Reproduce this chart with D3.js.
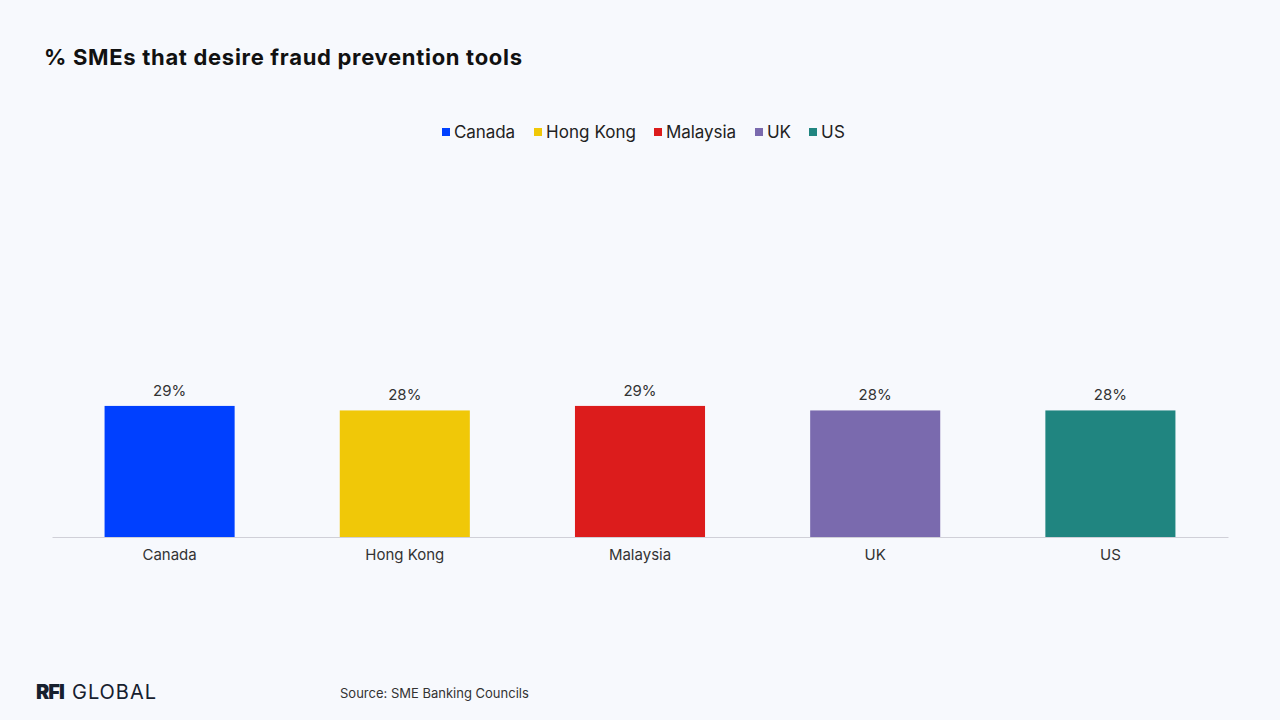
<!DOCTYPE html>
<html>
<head>
<meta charset="utf-8">
<script src="https://cdn.jsdelivr.net/npm/d3@7"></script>
<style>
  body { margin: 0; background: #f7f9fd; }
  text { font-family: Inter, "Open Sans", sans-serif; }
</style>
</head>
<body>
<svg id="chart" width="1280" height="720"></svg>
<script>
var countries = ["Canada", "Hong Kong", "Malaysia", "UK", "US"];
var values = [29, 28, 29, 28, 28];
var colours = ["#0040ff", "#f0c808", "#dc1c1c", "#7a6aae", "#208580"];

var svg = d3.select("#chart");
var margin = { left: 52, right: 52, top: 85, bottom: 183 };

var x = d3.scaleBand().domain(countries)
    .range([margin.left, 1280 - margin.right])
    .paddingInner(0.447).paddingOuter(0.2235);
var y = d3.scaleLinear().domain([0, 100]).range([720 - margin.bottom, margin.top]);

svg.append("text").attr("x", 44).attr("y", 65)
    .style("font-size", "22px").style("font-weight", "bold").attr("fill", "#111")
    .attr("textLength", 478).text("% SMEs that desire fraud prevention tools");

// legend
var legendX = [442, 534, 654, 755, 809];
var legendW = [61, 90, 70, 24, 24];
var legend = svg.append("g");
countries.forEach(function (c, i) {
    legend.append("rect").attr("x", legendX[i]).attr("y", 128).attr("width", 8).attr("height", 8)
        .attr("fill", colours[i]);
    legend.append("text").attr("x", legendX[i] + 12).attr("y", 138)
        .style("font-size", "17px").attr("fill", "#222").attr("textLength", legendW[i]).text(c);
});

svg.selectAll("rect.bar").data(values).enter().append("rect")
    .attr("class", "bar")
    .attr("x", function (d, i) { return x(countries[i]); })
    .attr("width", x.bandwidth())
    .attr("y", function (d) { return y(d); })
    .attr("height", function (d) { return y(0) - y(d); })
    .attr("fill", function (d, i) { return colours[i]; });

svg.selectAll("text.val").data(values).enter().append("text")
    .attr("class", "val")
    .attr("x", function (d, i) { return x(countries[i]) + x.bandwidth() / 2; })
    .attr("y", function (d) { return y(d) - 10; })
    .attr("text-anchor", "middle").style("font-size", "15px").attr("fill", "#333")
    .text(function (d) { return d + "%"; });

var axis = svg.append("g").attr("transform", "translate(0," + y(0) + ")")
    .call(d3.axisBottom(x).tickSize(0).tickPadding(12));
axis.select(".domain").attr("stroke", "#d0d0d8");
axis.selectAll("text").style("font-size", "15px").attr("fill", "#333").attr("font-family", "Inter");

svg.append("text").attr("x", 36).attr("y", 699)
    .style("font-size", "20px").style("font-weight", "900").attr("fill", "#16202e")
    .style("letter-spacing", "-1px").text("RFI");
svg.append("text").attr("x", 72).attr("y", 699)
    .style("font-size", "20px").attr("fill", "#16202e").attr("textLength", 84).text("GLOBAL");
svg.append("text").attr("x", 340).attr("y", 698)
    .style("font-size", "13px").attr("fill", "#333").text("Source: SME Banking Councils");
</script>
</body>
</html>
